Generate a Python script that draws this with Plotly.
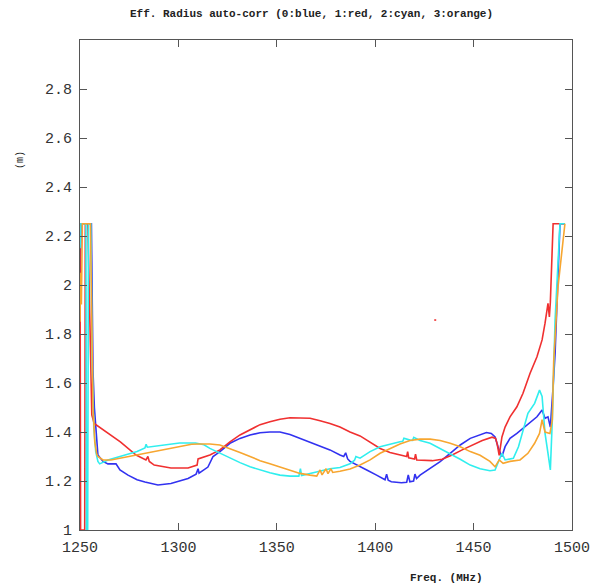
import plotly.graph_objects as go

# ---------------- data ----------------
blue_f = [1250.0, 1250.3, 1250.6, 1255.8, 1256.2, 1256.6, 1257.3, 1258.2, 1259.1, 1261.7, 1264.2, 1268.3,
          1270.3, 1274.4, 1279.0, 1283.0, 1289.6, 1296.2, 1304.9, 1309.0, 1310.0, 1310.5, 1315.0, 1317.6,
          1321.1, 1326.2, 1331.3, 1336.4, 1341.5, 1346.5, 1351.6, 1356.7, 1361.8, 1366.9, 1372.0, 1377.0,
          1382.1, 1384.0, 1385.0, 1386.0, 1387.2, 1390.6, 1395.7, 1400.7, 1405.0, 1405.8, 1406.6, 1408.2,
          1413.3, 1416.0, 1416.8, 1417.6, 1419.5, 1420.2, 1421.0, 1422.8, 1427.9, 1433.0, 1438.1, 1443.2,
          1448.3, 1453.3, 1456.5, 1459.0, 1460.9, 1462.9, 1464.4, 1466.0, 1468.5, 1472.0, 1475.1, 1478.7,
          1482.2, 1484.8, 1486.3, 1487.8, 1489.0, 1490.4, 1491.4, 1493.9, 1496.4]
blue_v = [2.00, 2.10, 2.25, 2.25, 1.95, 1.65, 1.50, 1.38, 1.306, 1.28, 1.27, 1.27,
          1.245, 1.224, 1.205, 1.196, 1.184, 1.19, 1.21, 1.228, 1.25, 1.232, 1.257, 1.30,
          1.32, 1.354, 1.374, 1.388, 1.397, 1.40, 1.40, 1.39, 1.374, 1.36, 1.343, 1.327,
          1.306, 1.30, 1.315, 1.29, 1.28, 1.265, 1.245, 1.224, 1.205, 1.228, 1.203, 1.197,
          1.193, 1.195, 1.225, 1.197, 1.20, 1.228, 1.21, 1.224, 1.252, 1.279, 1.313, 1.347,
          1.374, 1.39, 1.398, 1.394, 1.38, 1.327, 1.30, 1.34, 1.374, 1.394, 1.415, 1.442,
          1.462, 1.49, 1.456, 1.462, 1.42, 1.585, 1.72, 2.25, 2.25]

red_f = [1250.0, 1250.3, 1252.4, 1252.7, 1254.0, 1255.5, 1256.0, 1257.2, 1258.1, 1262.0, 1270.5, 1278.5,
         1283.5, 1284.5, 1285.2, 1287.7, 1296.2, 1304.9, 1307.0, 1309.5, 1310.0, 1311.0, 1316.0, 1321.1,
         1326.2, 1331.3, 1336.4, 1341.5, 1346.5, 1351.6, 1356.7, 1361.8, 1366.9, 1372.0, 1377.0, 1382.1,
         1387.2, 1392.3, 1397.4, 1402.5, 1407.5, 1412.6, 1416.0, 1416.5, 1417.0, 1420.0, 1420.5, 1421.1,
         1429.0, 1434.0, 1439.1, 1444.2, 1449.3, 1454.4, 1459.4, 1461.2, 1462.0, 1463.0, 1464.4, 1466.0,
         1468.5, 1472.0, 1475.1, 1478.7, 1482.2, 1484.8, 1486.3, 1487.1, 1487.8, 1488.5, 1489.0, 1490.4,
         1496.4]
red_v = [2.25, 1.00, 1.00, 2.25, 2.25, 1.72, 1.47, 1.435, 1.43, 1.41, 1.36, 1.306,
         1.286, 1.30, 1.28, 1.265, 1.253, 1.253, 1.258, 1.265, 1.29, 1.293, 1.306, 1.327,
         1.36, 1.388, 1.41, 1.43, 1.442, 1.452, 1.458, 1.458, 1.456, 1.446, 1.435, 1.42,
         1.40, 1.384, 1.36, 1.333, 1.316, 1.306, 1.30, 1.32, 1.295, 1.29, 1.31, 1.286,
         1.283, 1.289, 1.306, 1.327, 1.347, 1.365, 1.379, 1.374, 1.35, 1.305, 1.38, 1.42,
         1.462, 1.503, 1.558, 1.64, 1.707, 1.776, 1.844, 1.898, 1.925, 1.87, 1.93, 2.25,
         2.25]

red_dot_f = [1430.0, 1431.0]
red_dot_v = [1.857, 1.857]

cyan_f = [1250.0, 1250.5, 1253.0, 1253.3, 1253.9, 1254.3, 1255.5, 1256.2, 1257.0, 1258.0, 1259.1, 1260.0,
          1264.2, 1270.5, 1279.0, 1283.0, 1283.6, 1284.2, 1291.9, 1300.6, 1308.7, 1313.0, 1316.0, 1321.1,
          1326.2, 1331.3, 1336.4, 1341.5, 1346.5, 1351.6, 1356.7, 1361.2, 1362.0, 1362.6, 1366.9, 1372.0,
          1377.0, 1382.1, 1387.2, 1389.5, 1390.2, 1392.3, 1397.4, 1402.5, 1407.5, 1412.6, 1414.0, 1414.6,
          1417.7, 1419.0, 1419.6, 1422.8, 1427.9, 1433.0, 1438.1, 1443.2, 1448.3, 1453.3, 1458.3, 1460.9,
          1463.0, 1464.4, 1466.0, 1470.2, 1472.8, 1475.1, 1477.6, 1481.0, 1483.5, 1484.8, 1486.3, 1487.8,
          1489.0, 1490.0, 1491.4, 1493.9, 1496.4]
cyan_v = [2.15, 2.25, 2.25, 1.00, 1.00, 2.25, 2.25, 1.70, 1.42, 1.32, 1.28, 1.27,
          1.286, 1.30, 1.32, 1.335, 1.35, 1.338, 1.347, 1.355, 1.355, 1.348, 1.333, 1.313,
          1.293, 1.275, 1.258, 1.245, 1.234, 1.224, 1.22, 1.22, 1.25, 1.222, 1.231, 1.242,
          1.25, 1.255, 1.27, 1.285, 1.30, 1.293, 1.32, 1.34, 1.351, 1.36, 1.362, 1.375,
          1.367, 1.366, 1.378, 1.365, 1.354, 1.333, 1.313, 1.289, 1.265, 1.25, 1.242, 1.245,
          1.286, 1.313, 1.286, 1.293, 1.34, 1.408, 1.476, 1.517, 1.571, 1.545, 1.394, 1.313,
          1.245, 1.45, 1.857, 2.25, 2.25]

orange_f = [1250.0, 1250.3, 1250.7, 1251.2, 1255.3, 1255.9, 1256.6, 1257.5, 1258.5, 1259.1, 1261.7, 1265.7,
            1274.4, 1283.0, 1291.4, 1300.0, 1306.7, 1311.0, 1316.0, 1321.1, 1326.2, 1331.3, 1336.4, 1341.5,
            1346.5, 1351.6, 1356.7, 1361.8, 1366.9, 1370.3, 1372.0, 1373.0, 1375.0, 1376.0, 1377.5, 1378.4,
            1382.1, 1387.2, 1392.3, 1397.4, 1402.5, 1407.5, 1412.6, 1417.7, 1422.8, 1427.9, 1433.0, 1438.1,
            1443.2, 1448.3, 1453.3, 1458.3, 1460.9, 1463.0, 1465.0, 1468.5, 1473.6, 1477.6, 1481.0, 1483.5,
            1484.8, 1486.3, 1488.8, 1490.0, 1490.7, 1492.9, 1496.4]
orange_v = [1.85, 2.05, 1.92, 2.25, 2.25, 1.80, 1.50, 1.36, 1.31, 1.30, 1.286, 1.286,
            1.30, 1.314, 1.327, 1.34, 1.35, 1.351, 1.351, 1.347, 1.333, 1.316, 1.30, 1.283,
            1.27, 1.256, 1.242, 1.231, 1.224, 1.22, 1.245, 1.225, 1.25, 1.23, 1.25, 1.235,
            1.24, 1.249, 1.265, 1.286, 1.313, 1.333, 1.351, 1.365, 1.371, 1.371, 1.365, 1.354,
            1.34, 1.32, 1.305, 1.28, 1.258, 1.286, 1.272, 1.28, 1.286, 1.313, 1.354, 1.394,
            1.45, 1.40, 1.394, 1.45, 1.69, 1.993, 2.25]

x_ticks = [1250, 1300, 1350, 1400, 1450, 1500]
y_ticks = [1.0, 1.2, 1.4, 1.6, 1.8, 2.0, 2.2, 2.4, 2.6, 2.8]
y_labels = ["1", "1.2", "1.4", "1.6", "1.8", "2", "2.2", "2.4", "2.6", "2.8"]

title_text = "Eff. Radius auto-corr (0:blue, 1:red, 2:cyan, 3:orange)"
xlabel_text = "Freq. (MHz)"
ylabel_text = "(m)"

# ---------------- figure ----------------
MONO = "Courier New, Liberation Mono, monospace"
series = [
    (blue_f, blue_v, "#3232f0"),
    (red_f, red_v, "#f03030"),
    (cyan_f, cyan_v, "#30eeee"),
    (orange_f, orange_v, "#f7a630"),
]

fig = go.Figure()
for fx, fy, col in series:
    fig.add_trace(go.Scatter(x=fx, y=fy, mode="lines", line=dict(color=col, width=1.6),
                             showlegend=False, hoverinfo="skip"))
fig.add_trace(go.Scatter(x=red_dot_f, y=red_dot_v, mode="lines", line=dict(color="#f03030", width=1.6),
                         showlegend=False, hoverinfo="skip"))

axis_common = dict(showgrid=False, zeroline=False, showline=True, linecolor="#555555", linewidth=1,
                   mirror="ticks", ticks="inside", ticklen=7, tickcolor="#555555", tickwidth=1,
                   automargin=False,
                   tickfont=dict(family=MONO, size=15, color="#333333"))

fig.update_layout(
    width=593, height=586, autosize=False,
    margin=dict(l=80, r=21, t=40, b=56),
    plot_bgcolor="white", paper_bgcolor="white",
    xaxis=dict(range=[1250, 1500], tickvals=x_ticks, ticktext=[str(t) for t in x_ticks],
               ticklabelstandoff=3, **axis_common),
    yaxis=dict(range=[1, 3], tickvals=y_ticks, ticktext=y_labels, ticklabelstandoff=4, **axis_common),
    annotations=[
        dict(text="<b>" + title_text + "</b>", xref="paper", yref="paper", x=0.4715, y=1.0, yshift=26,
             xanchor="center", yanchor="middle", showarrow=False,
             font=dict(family=MONO, size=11, color="#222222")),
        dict(text="<b>" + xlabel_text + "</b>", xref="paper", yref="paper", x=0.744, y=0, yshift=-48,
             xanchor="center", yanchor="middle", showarrow=False,
             font=dict(family=MONO, size=11, color="#222222")),
        dict(text=ylabel_text, xref="paper", yref="paper", x=0, xshift=-60, y=0.755,
             xanchor="center", yanchor="middle", showarrow=False, textangle=-90,
             font=dict(family=MONO, size=10, color="#222222")),
    ],
)

fig.write_html("out.html", config={"displayModeBar": False})
